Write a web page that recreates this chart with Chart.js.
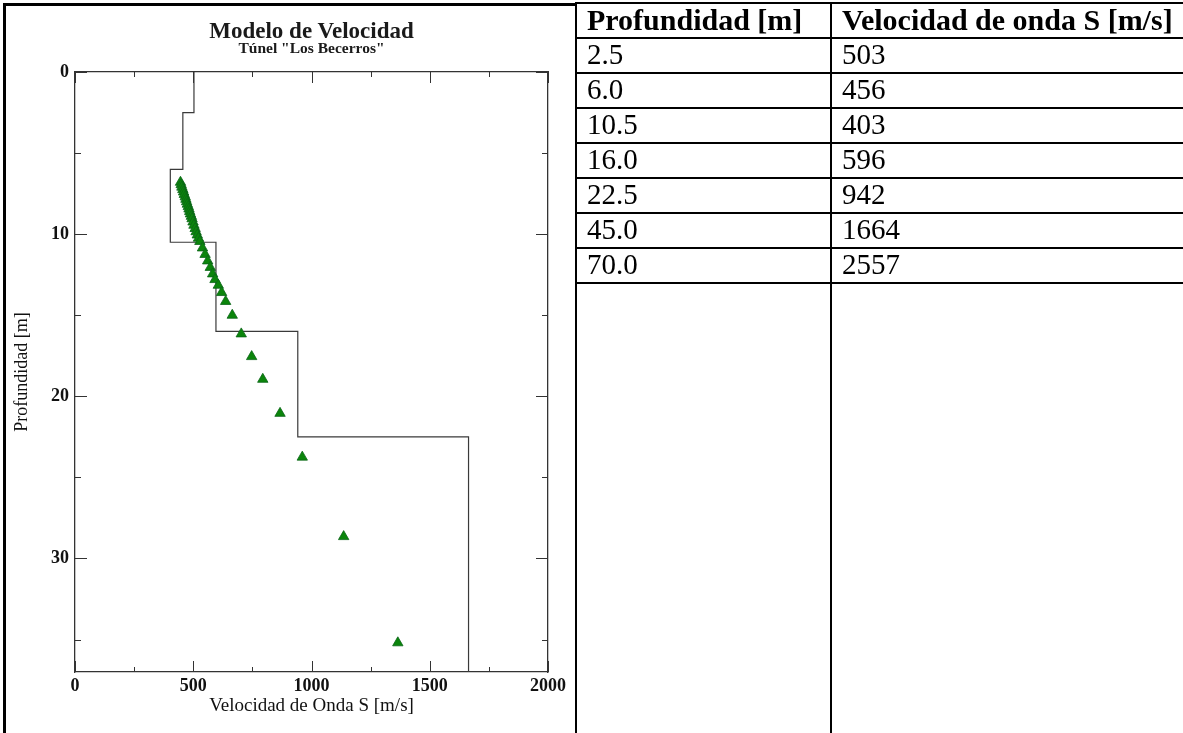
<!DOCTYPE html>
<html>
<head>
<meta charset="utf-8">
<title>Modelo de Velocidad</title>
<script src="https://cdn.jsdelivr.net/npm/chart.js@4.4.1/dist/chart.umd.min.js"></script>
<style>
  html, body { margin: 0; padding: 0; background: #fff; }
  body { width: 1183px; height: 733px; position: relative; overflow: hidden; font-family: "Liberation Serif", "Times New Roman", serif; color: #000; }
  #chart-box { position: absolute; left: 0; top: 0; width: 577px; height: 733px; }
  .frame-left { position: absolute; left: 3px; top: 3px; width: 3px; height: 730px; background: #000; }
  .frame-top { position: absolute; left: 3px; top: 3px; width: 574px; height: 3px; background: #000; }
  .chart-title { position: absolute; left: 75px; width: 473px; text-align: center; font-weight: bold; color: #1a1a1a; line-height: 1; white-space: nowrap; }
  #title { top: 19px; font-size: 23px; }
  #subtitle { top: 40px; font-size: 15.5px; }
  table { position: absolute; left: 575px; top: 2px; width: 608px; border-collapse: collapse; font-size: 29px; table-layout: fixed; }
  th, td { border: 2px solid #000; padding: 0 0 4px 10px; text-align: left; vertical-align: middle; line-height: 26px; white-space: nowrap; overflow: visible; }
  th { font-weight: bold; font-size: 30px; padding-bottom: 1px; }
  tr { height: 35px; }
  tr.rest td { vertical-align: top; }
</style>
</head>
<body>
<div id="chart-box"><canvas id="vs-chart"></canvas></div>
<div class="frame-left"></div>
<div class="frame-top"></div>
<div class="chart-title" id="title">Modelo de Velocidad</div>
<div class="chart-title" id="subtitle">Túnel "Los Becerros"</div>
<table id="vs-table">
  <colgroup><col style="width:255px"><col style="width:353px"></colgroup>
  <thead><tr><th>Profundidad [m]</th><th>Velocidad de onda S [m/s]</th></tr></thead>
  <tbody id="vs-body"></tbody>
</table>

<script>
// velocity model (table + step line)
const layerDepth = [2.5, 6.0, 10.5, 16.0, 22.5, 45.0, 70.0];
const layerVs = [503, 456, 403, 596, 942, 1664, 2557];

const obsDepth = [6.8, 6.95, 7.1, 7.25, 7.4, 7.55, 7.7, 7.85, 8.0, 8.15, 8.3, 8.45, 8.6, 8.75, 8.9, 9.05,
  9.25, 9.45, 9.65, 9.85, 10.05, 10.25, 10.45, 10.85, 11.25, 11.65, 12.05, 12.45, 12.8, 13.15, 13.6,
  14.15, 15.0, 16.15, 17.55, 18.95, 21.05, 23.75, 28.65, 35.2];
const obsVs = [446, 449, 452, 456, 459, 462, 466, 469, 472, 475, 479, 482, 485, 488, 492, 495,
  499, 503, 508, 512, 517, 522, 528, 539, 550, 561, 572, 582, 592, 606, 620,
  637, 665, 703, 747, 794, 867, 961, 1136, 1365];

// axes
const xMajorTicks = [0, 500, 1000, 1500, 2000];
const xMinorTicks = [250, 750, 1250, 1750];
const yMajorTicks = [0, 10, 20, 30];
const yMinorTicks = [5, 15, 25, 35];
const xMax = 2000;
const yMax = 37;

const FONT = '"Liberation Serif", "Times New Roman", serif';

// table
document.getElementById('vs-body').innerHTML =
  layerDepth.map((d, i) => `<tr><td>${d.toFixed(1)}</td><td>${layerVs[i]}</td></tr>`).join('') +
  `<tr class="rest" style="height:${733 - 2 - 35 * (layerDepth.length + 1)}px"><td></td><td></td></tr>`;

// step line built from the layer table
const stepLine = [{ x: layerVs[0], y: 0 }];
layerDepth.forEach((d, i) => {
  stepLine.push({ x: layerVs[i], y: d });
  if (i + 1 < layerVs.length) stepLine.push({ x: layerVs[i + 1], y: d });
});

const points = obsDepth.map((d, i) => ({ x: obsVs[i], y: d }));

// inward tick marks on all four sides
const innerTicks = {
  id: 'innerTicks',
  afterDraw(chart) {
    const { ctx, chartArea: a, scales: { x, y } } = chart;
    ctx.save();
    ctx.strokeStyle = '#333';
    ctx.lineWidth = 1;
    ctx.beginPath();
    const xt = (v, len) => {
      const px = Math.round(x.getPixelForValue(v)) + 0.5;
      ctx.moveTo(px, a.bottom); ctx.lineTo(px, a.bottom - len);
      ctx.moveTo(px, a.top); ctx.lineTo(px, a.top + len);
    };
    const yt = (v, len) => {
      const py = Math.round(y.getPixelForValue(v)) + 0.5;
      ctx.moveTo(a.left, py); ctx.lineTo(a.left + len, py);
      ctx.moveTo(a.right, py); ctx.lineTo(a.right - len, py);
    };
    xMajorTicks.forEach(v => xt(v, 11));
    xMinorTicks.forEach(v => xt(v, 5));
    yMajorTicks.forEach(v => yt(v, 12));
    yMinorTicks.forEach(v => yt(v, 6));
    ctx.stroke();
    ctx.restore();
  }
};

const axisBorder = { display: true, color: '#333', width: 1.3 };

new Chart(document.getElementById('vs-chart'), {
  type: 'scatter',
  data: {
    datasets: [
      {
        label: 'Observado',
        data: points,
        pointStyle: 'triangle',
        pointRadius: 6,
        backgroundColor: '#0b850b',
        borderColor: '#0a6418',
        borderWidth: 0.8
      },
      {
        label: 'Modelo',
        data: stepLine,
        showLine: true,
        pointRadius: 0,
        borderColor: '#3a3a3a',
        borderWidth: 1.2,
        fill: false
      }
    ]
  },
  options: {
    responsive: true,
    maintainAspectRatio: false,
    animation: false,
    layout: { padding: 0 },
    plugins: { legend: { display: false }, tooltip: { enabled: false }, title: { display: false } },
    scales: {
      x: {
        type: 'linear', position: 'bottom', min: 0, max: xMax,
        afterBuildTicks: s => { s.ticks = xMajorTicks.map(v => ({ value: v })); },
        ticks: { padding: 4, color: '#111', maxRotation: 0, callback: v => String(v), font: { family: FONT, size: 18, weight: 'bold' } },
        grid: { display: false, drawTicks: false },
        border: axisBorder,
        title: { display: true, text: 'Velocidad de Onda S [m/s]', color: '#111', font: { family: FONT, size: 19 }, padding: { top: 0, bottom: 16 } },
        afterFit: s => { s.height = 61; }
      },
      x2: {
        type: 'linear', position: 'top', min: 0, max: xMax,
        ticks: { display: false },
        grid: { display: false, drawTicks: false },
        border: axisBorder,
        afterFit: s => { s.height = 72; }
      },
      y: {
        type: 'linear', position: 'left', min: 0, max: yMax, reverse: true,
        afterBuildTicks: s => { s.ticks = yMajorTicks.map(v => ({ value: v })); },
        ticks: { padding: 6, color: '#111', callback: v => String(v), font: { family: FONT, size: 18, weight: 'bold' } },
        grid: { display: false, drawTicks: false },
        border: axisBorder,
        title: { display: true, text: 'Profundidad [m]', color: '#111', font: { family: FONT, size: 18 }, padding: { top: 11, bottom: 0 } },
        afterFit: s => { s.width = 75; }
      },
      y2: {
        type: 'linear', position: 'right', min: 0, max: yMax, reverse: true,
        ticks: { display: false },
        grid: { display: false, drawTicks: false },
        border: axisBorder,
        afterFit: s => { s.width = 29; }
      }
    }
  },
  plugins: [innerTicks]
});
</script>
</body>
</html>
